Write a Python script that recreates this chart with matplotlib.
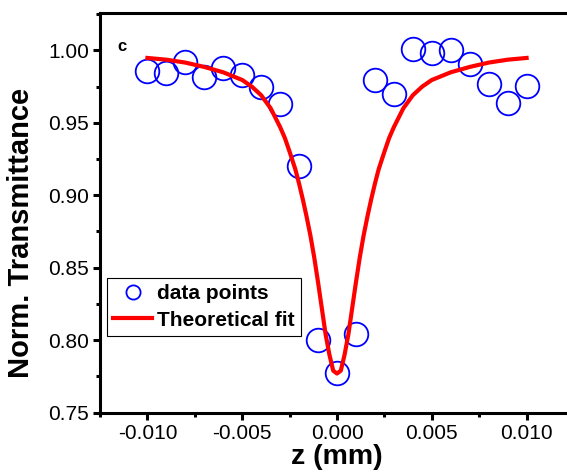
import matplotlib.pyplot as plt
import numpy as np
from matplotlib.ticker import MultipleLocator

plt.rcParams['font.family'] = ['Liberation Sans', 'DejaVu Sans']

# measured data points
z_data = [-0.010, -0.009, -0.008, -0.007, -0.006, -0.005, -0.004, -0.003, -0.002, -0.001,
          0.000, 0.001, 0.002, 0.003, 0.004, 0.005, 0.006, 0.007, 0.008, 0.009, 0.010]
t_data = [0.9855, 0.9843, 0.9919, 0.9816, 0.9878, 0.9830, 0.9747, 0.9627, 0.9200, 0.8003,
          0.7771, 0.8045, 0.9793, 0.9698, 1.0009, 0.9984, 1.0000, 0.9903, 0.9765, 0.9638, 0.9756]

# theoretical fit curve
z_fit = [-0.0100, -0.0090, -0.0080, -0.0070, -0.0060, -0.0050, -0.0045, -0.0040, -0.0035,
         -0.0030, -0.00275, -0.0025, -0.0022, -0.0020, -0.0018, -0.0016, -0.0014, -0.0012,
         -0.0010, -0.0008, -0.0006, -0.0004, -0.0002, 0.0000, 0.0002, 0.0004, 0.0006,
         0.0008, 0.0010, 0.0012, 0.0014, 0.0016, 0.0018, 0.0020, 0.0022, 0.0025, 0.00275,
         0.0030, 0.0035, 0.0040, 0.0045, 0.0050, 0.0060, 0.0070, 0.0080, 0.0090, 0.0100]
t_fit = [0.9947, 0.9935, 0.9915, 0.9885, 0.9848, 0.9795, 0.9750, 0.9690, 0.9600,
         0.9470, 0.9395, 0.9300, 0.9180, 0.9080, 0.8970, 0.8850, 0.8720, 0.8570,
         0.8400, 0.8220, 0.8040, 0.7900, 0.7790, 0.7770, 0.7790, 0.7900, 0.8040,
         0.8220, 0.8400, 0.8570, 0.8720, 0.8850, 0.8970, 0.9080, 0.9180, 0.9300, 0.9395,
         0.9470, 0.9600, 0.9690, 0.9750, 0.9795, 0.9848, 0.9885, 0.9915, 0.9935, 0.9947]

fig = plt.figure(figsize=(5.67, 4.73), dpi=100)
ax = fig.add_axes([100/567, 1 - 412.7/473, 474/567, 399.4/473])

ax.plot(z_data, t_data, 'o', ms=17, mfc='none', mec='#0000ff', mew=1.3,
        label='data points', zorder=3)
ax.plot(z_fit, t_fit, '-', color='#ff0000', lw=3, label='Theoretical fit', zorder=4)

ax.set_xlim(-0.0125, 0.0125)
ax.set_ylim(0.75, 1.0255)

ax.xaxis.set_minor_locator(MultipleLocator(0.0025))
ax.yaxis.set_minor_locator(MultipleLocator(0.025))
ax.set_xticks([-0.010, -0.005, 0.0, 0.005, 0.010])
ax.set_xticklabels(['-0.010', '-0.005', '0.000', '0.005', '0.010'])
ax.set_yticks([0.75, 0.80, 0.85, 0.90, 0.95, 1.00])
ax.set_yticklabels(['0.75', '0.80', '0.85', '0.90', '0.95', '1.00'])

for s in ax.spines.values():
    s.set_linewidth(2.2)
ax.tick_params(which='both', direction='out', width=2.2, top=False, right=False,
               labelsize=15)
ax.tick_params(which='major', length=5, pad=3)
ax.tick_params(which='minor', length=3)

ax.set_xlabel('z (mm)', fontsize=20.5, fontweight='bold', labelpad=1)
ax.set_ylabel('Norm. Transmittance', fontsize=21, fontweight='bold')
ax.yaxis.set_label_coords(-0.137, 0.451)

ax.text(0.036, 0.905, 'c', transform=ax.transAxes, fontsize=12, fontweight='bold')

leg = ax.legend(loc='upper left', bbox_to_anchor=(0.014, 0.337), borderaxespad=0,
                prop={'weight': 'bold', 'size': 15}, markerscale=0.6,
                handlelength=1.9, handletextpad=0.2, labelspacing=0.35,
                borderpad=0.3, fancybox=False, framealpha=1)
leg.get_frame().set_edgecolor('black')
leg.get_frame().set_linewidth(0.8)

fig.savefig('out.png', dpi=100)
